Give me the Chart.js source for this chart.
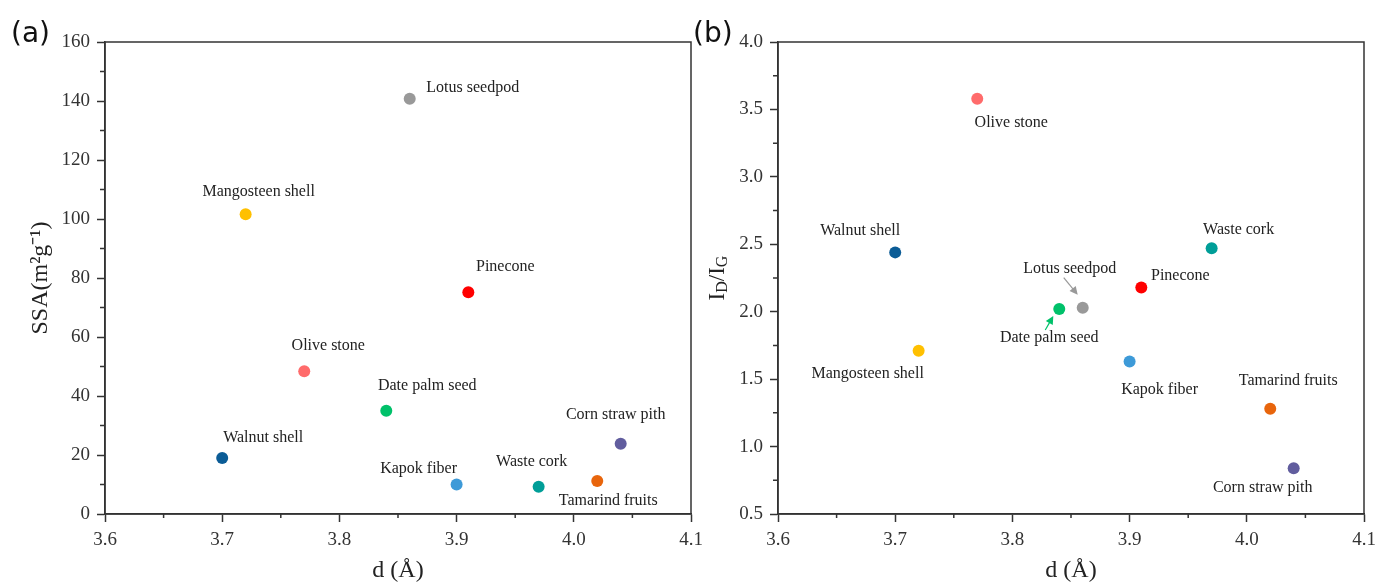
<!DOCTYPE html>
<html>
<head>
<meta charset="utf-8">
<script src="https://cdn.jsdelivr.net/npm/chart.js@4/dist/chart.umd.min.js"></script>
<style>
  body { margin: 0; background: #fff; }
  #wrapA { position: absolute; left: 0; top: 0; width: 706px; height: 583px; }
  #wrapB { position: absolute; left: 692px; top: 0; width: 684px; height: 583px; }
</style>
</head>
<body>
<div id="wrapA"><canvas id="chart-ssa"></canvas></div>
<div id="wrapB"><canvas id="chart-ratio"></canvas></div>
<script>
// data
var samples = ["Walnut shell", "Mangosteen shell", "Olive stone", "Date palm seed", "Lotus seedpod",
               "Kapok fiber", "Pinecone", "Waste cork", "Tamarind fruits", "Corn straw pith"];
var dValues = [3.70, 3.72, 3.77, 3.84, 3.86, 3.90, 3.91, 3.97, 4.02, 4.04];
var ssaValues = [19, 101.6, 48.4, 35, 140.8, 10, 75.2, 9.2, 11.2, 23.8];
var ratioValues = [2.44, 1.71, 3.58, 2.02, 2.03, 1.63, 2.18, 2.47, 1.28, 0.84];
var pointColors = ["#0b5c96", "#ffc000", "#ff6b6b", "#00c16a", "#999999",
                   "#3d9ad8", "#ff0000", "#009e98", "#e8650c", "#615d9e"];

var xMinor = [3.65, 3.75, 3.85, 3.95, 4.05];
var ssaMinor = [10, 30, 50, 70, 90, 110, 130, 150];
var ratioMinor = [0.75, 1.25, 1.75, 2.25, 2.75, 3.25, 3.75];

// label placement (centre offsets from each point, px)
var ssaLabelPos = [[41, -20], [13, -22], [24, -25], [41, -25], [63, -11],
                   [-38, -16], [37, -25], [-7, -25], [11, 20], [-5, -29]];
var ratioLabelPos = [[-35, -22], [-51, 23], [34, 24], [-10, 29], [-13, -39],
                     [30, 28], [39, -12], [27, -19], [18, -28], [-31, 20]];
// arrows: [index, fromDx, fromDy, toDx, toDy, colour]
var ratioArrows = [[4, -19, -30, -5, -13, "#999999"], [3, -14, 21, -6, 7, "#00c16a"]];

var serif = "'Liberation Serif', 'Times New Roman', serif";
var axisColor = "#333333";

var frameAndMinor = {
  id: "frameAndMinor",
  afterDraw: function (chart, args, opts) {
    var ctx = chart.ctx, a = chart.chartArea;
    var xs = chart.scales.x, ys = chart.scales.y;
    ctx.save();
    ctx.strokeStyle = axisColor;
    ctx.lineWidth = 1.5;
    ctx.strokeRect(a.left, a.top, a.right - a.left, a.bottom - a.top);
    ctx.beginPath();
    opts.x.forEach(function (v) {
      var px = xs.getPixelForValue(v);
      ctx.moveTo(px, a.bottom);
      ctx.lineTo(px, a.bottom + 4);
    });
    opts.y.forEach(function (v) {
      var py = ys.getPixelForValue(v);
      ctx.moveTo(a.left, py);
      ctx.lineTo(a.left - 5, py);
    });
    ctx.stroke();
    ctx.restore();
  }
};

var pointLabels = {
  id: "pointLabels",
  afterDatasetsDraw: function (chart, args, opts) {
    var ctx = chart.ctx;
    var pts = chart.getDatasetMeta(0).data;
    ctx.save();
    ctx.font = "16px " + serif;
    ctx.fillStyle = "#222";
    ctx.textAlign = "center";
    ctx.textBaseline = "middle";
    samples.forEach(function (name, i) {
      ctx.fillText(name, pts[i].x + opts.pos[i][0], pts[i].y + opts.pos[i][1]);
    });
    (opts.arrows || []).forEach(function (ar) {
      var p = pts[ar[0]];
      var x1 = p.x + ar[1], y1 = p.y + ar[2], x2 = p.x + ar[3], y2 = p.y + ar[4];
      var ang = Math.atan2(y2 - y1, x2 - x1);
      ctx.strokeStyle = ar[5];
      ctx.fillStyle = ar[5];
      ctx.lineWidth = 1.2;
      ctx.beginPath();
      ctx.moveTo(x1, y1);
      ctx.lineTo(x2 - 5 * Math.cos(ang), y2 - 5 * Math.sin(ang));
      ctx.stroke();
      ctx.beginPath();
      ctx.moveTo(x2, y2);
      ctx.lineTo(x2 - 8 * Math.cos(ang) + 4 * Math.sin(ang), y2 - 8 * Math.sin(ang) - 4 * Math.cos(ang));
      ctx.lineTo(x2 - 8 * Math.cos(ang) - 4 * Math.sin(ang), y2 - 8 * Math.sin(ang) + 4 * Math.cos(ang));
      ctx.closePath();
      ctx.fill();
    });
    ctx.restore();
  }
};

var panelText = {
  id: "panelText",
  afterDraw: function (chart, args, opts) {
    var ctx = chart.ctx;
    ctx.save();
    ctx.fillStyle = "#111";
    ctx.font = "28px 'DejaVu Sans', sans-serif";
    ctx.textBaseline = "alphabetic";
    ctx.textAlign = "left";
    ctx.fillText(opts.tag, opts.tagX, 42);
    if (opts.subTitle) {
      // I_D/I_G drawn rotated
      var a = chart.chartArea;
      var big = "23px " + serif, small = "16px " + serif;
      var parts = [["I", big, 0], ["D", small, 5], ["/I", big, 0], ["G", small, 5]];
      var w = 0;
      parts.forEach(function (p) { ctx.font = p[1]; w += ctx.measureText(p[0]).width; });
      ctx.fillStyle = "#222";
      ctx.translate(opts.subX, (a.top + a.bottom) / 2);
      ctx.rotate(-Math.PI / 2);
      ctx.textBaseline = "middle";
      var x = -w / 2;
      parts.forEach(function (p) {
        ctx.font = p[1];
        ctx.fillText(p[0], x, p[2]);
        x += ctx.measureText(p[0]).width;
      });
    }
    ctx.restore();
  }
};

function makeOptions(yMin, yMax, yStep, yDigits, yWidth, padRight, yTitle, minorY, labelPos, arrows, tag, tagX, subTitle) {
  return {
    responsive: true,
    maintainAspectRatio: false,
    animation: false,
    layout: { padding: { top: 42, right: padRight, left: 0, bottom: 0 } },
    plugins: {
      legend: { display: false },
      tooltip: { enabled: false },
      frameAndMinor: { x: xMinor, y: minorY },
      pointLabels: { pos: labelPos, arrows: arrows },
      panelText: { tag: tag, tagX: tagX, subTitle: subTitle, subX: 26 },
    },
    scales: {
      x: {
        type: "linear",
        min: 3.6,
        max: 4.1,
        afterFit: function (s) { s.height = 69; s.paddingLeft = 0; s.paddingRight = 0; },
        grid: {
          display: true,
          drawOnChartArea: false,
          drawTicks: true,
          tickLength: 8,
          tickWidth: 1.5,
          color: axisColor,
        },
        border: { display: true, color: axisColor, width: 1.5 },
        ticks: {
          stepSize: 0.1,
          padding: 7,
          color: "#333",
          font: { size: 19, family: serif },
          callback: function (v) { return Number(v).toFixed(1); },
        },
        title: {
          display: true,
          text: "d (Å)",
          color: "#222",
          font: { size: 24, family: serif, lineHeight: 1 },
          padding: { top: 0, bottom: 0 },
        },
      },
      y: {
        type: "linear",
        min: yMin,
        max: yMax,
        afterFit: function (s) { s.width = yWidth; s.paddingTop = 0; s.paddingBottom = 0; },
        grid: {
          display: true,
          drawOnChartArea: false,
          drawTicks: true,
          tickLength: 8,
          tickWidth: 1.5,
          color: axisColor,
        },
        border: { display: true, color: axisColor, width: 1.5 },
        ticks: {
          stepSize: yStep,
          padding: 7,
          color: "#333",
          font: { size: 19, family: serif },
          callback: function (v) { return Number(v).toFixed(yDigits); },
        },
        title: {
          display: yTitle !== "",
          text: yTitle,
          color: "#222",
          font: { size: 24, family: serif, lineHeight: 1 },
          padding: { top: 29, bottom: 0 },
        },
      },
    },
  };
}

function makeData(yValues) {
  return {
    datasets: [{
      data: dValues.map(function (d, i) { return { x: d, y: yValues[i] }; }),
      backgroundColor: pointColors,
      borderWidth: 0,
      pointRadius: 6,
      pointHoverRadius: 6,
    }],
  };
}

new Chart(document.getElementById("chart-ssa").getContext("2d"), {
  type: "scatter",
  data: makeData(ssaValues),
  options: makeOptions(0, 160, 20, 0, 105, 15, "SSA(m\u00B2g\u207B\u00B9)", ssaMinor, ssaLabelPos, [], "(a)", 11, false),
  plugins: [frameAndMinor, pointLabels, panelText],
});

new Chart(document.getElementById("chart-ratio").getContext("2d"), {
  type: "scatter",
  data: makeData(ratioValues),
  options: makeOptions(0.5, 4.0, 0.5, 1, 86, 12, "", ratioMinor, ratioLabelPos, ratioArrows, "(b)", 1, true),
  plugins: [frameAndMinor, pointLabels, panelText],
});
</script>
</body>
</html>
